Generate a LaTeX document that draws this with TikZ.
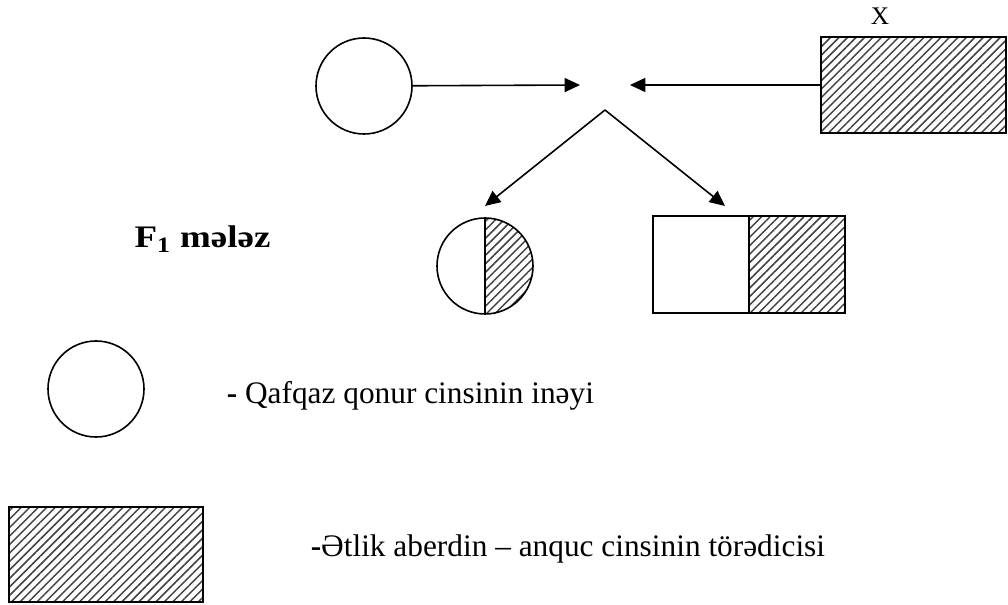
\documentclass[tikz,border=0pt]{standalone}
\usepackage{fontspec}
\setmainfont{Liberation Serif}
\usetikzlibrary{patterns.meta,arrows.meta}
\begin{document}
\begin{tikzpicture}[x=0.75pt,y=-0.75pt,
  line width=1.2pt,
  hatch/.style={pattern={Lines[angle=45,distance=4.5pt,line width=1.1pt]},pattern color=black!75},
  cow/.style={draw,circle,minimum size=72pt,inner sep=0pt},
  bull/.style={draw,rectangle,inner sep=0pt,outer sep=0pt,hatch},
  plainbox/.style={draw,rectangle,inner sep=0pt,outer sep=0pt},
  arr/.style={-{Triangle[length=11.5pt,width=10.5pt]}},
  lbl/.style={font=\fontsize{23.5}{28}\selectfont,inner sep=0pt}]
\useasboundingbox (0,0) rectangle (1008,605);

% parents
\node[cow] (p1) at (364,86) {};
\node[bull,minimum width=138.75pt,minimum height=72pt] (p2) at (913.5,85) {};
\node[lbl,font=\fontsize{19}{22}\selectfont,anchor=base] (cross) at (880,25) {X};

% crossing arrows
\coordinate (in1) at (580,85);
\coordinate (in2) at (630,85);
\coordinate (apex) at (605,110);
\coordinate (t1) at (485,206);
\coordinate (t2) at (725,206);
\draw[arr] (p1) -- (in1);
\draw[arr] (p2) -- (in2);
\draw[arr] (apex) -- (t1);
\draw[arr] (apex) -- (t2);

% F1 hybrids
\node[lbl,anchor=base] (f1) at (202.5,248) {\scalebox{1.18}[1]{\textbf{F\textsubscript{1} mələz}}};
\node[cow,path picture={\fill[hatch] (path picture bounding box.north) rectangle (path picture bounding box.south east);}] (f1c) at (485,266) {};
\draw (f1c.north) -- (f1c.south);
\node[plainbox,minimum width=72pt,minimum height=72.75pt] (f1a) at (701,264.5) {};
\node[bull,minimum width=72pt,minimum height=72.75pt,anchor=west] (f1b) at (f1a.east) {};

% legend
\node[cow] (lc) at (96,389) {};
\node[lbl,anchor=base west] (lt1) at (226,404) {\textbf{-} Qafqaz qonur cinsinin inəyi};
\node[bull,minimum width=145.5pt,minimum height=71.25pt] (lr) at (106,554.5) {};
\node[lbl,anchor=base west] (lt2) at (310,557) {\textbf{-}Ətlik aberdin – anquc cinsinin törədicisi};
\end{tikzpicture}
\end{document}
